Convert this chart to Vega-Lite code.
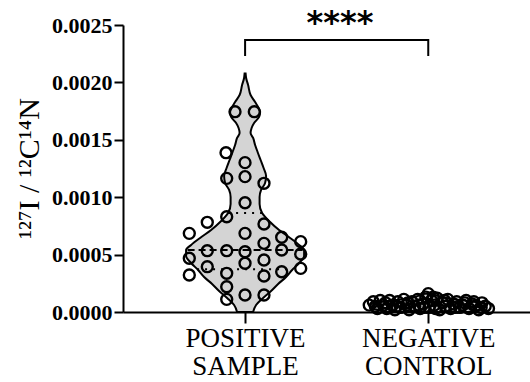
{
  "$schema": "https://vega.github.io/schema/vega-lite/v6.json",
  "width": 407,
  "height": 287,
  "autosize": {"type": "none"},
  "padding": {"left": 123, "top": 25, "right": 0, "bottom": 70},
  "background": "white",
  "config": {
    "view": {"stroke": null},
    "axis": {
      "grid": false,
      "tickWidth": 2,
      "tickColor": "black",
      "domainWidth": 2,
      "domainColor": "black",
      "labelColor": "black",
      "titleColor": "black"
    },
    "axisY": {
      "labelFont": "Liberation Serif",
      "labelFontWeight": "bold",
      "labelFontSize": 22,
      "labelPadding": 2,
      "tickSize": 9,
      "titleFont": "Liberation Serif",
      "titleFontWeight": "normal",
      "titleFontSize": 30
    },
    "axisX": {
      "labelFont": "Liberation Serif",
      "labelFontSize": 27,
      "labelLineHeight": 28,
      "labelPadding": 2,
      "tickSize": 11
    }
  },
  "datasets": {
    "violin": [
      {"g": "pos", "y": 0.002078, "x": 0.2988, "x2": 0.3012},
      {"g": "pos", "y": 0.002038, "x": 0.2975, "x2": 0.3025},
      {"g": "pos", "y": 0.001977, "x": 0.2926, "x2": 0.3074},
      {"g": "pos", "y": 0.001890, "x": 0.2865, "x2": 0.3135},
      {"g": "pos", "y": 0.001829, "x": 0.2754, "x2": 0.3246},
      {"g": "pos", "y": 0.001777, "x": 0.2668, "x2": 0.3332},
      {"g": "pos", "y": 0.001742, "x": 0.2631, "x2": 0.3369},
      {"g": "pos", "y": 0.001699, "x": 0.2656, "x2": 0.3344},
      {"g": "pos", "y": 0.001646, "x": 0.2779, "x2": 0.3221},
      {"g": "pos", "y": 0.001603, "x": 0.2840, "x2": 0.3160},
      {"g": "pos", "y": 0.001559, "x": 0.2865, "x2": 0.3135},
      {"g": "pos", "y": 0.001516, "x": 0.2803, "x2": 0.3197},
      {"g": "pos", "y": 0.001455, "x": 0.2754, "x2": 0.3246},
      {"g": "pos", "y": 0.001394, "x": 0.2693, "x2": 0.3307},
      {"g": "pos", "y": 0.001324, "x": 0.2619, "x2": 0.3381},
      {"g": "pos", "y": 0.001254, "x": 0.2545, "x2": 0.3455},
      {"g": "pos", "y": 0.001185, "x": 0.2484, "x2": 0.3516},
      {"g": "pos", "y": 0.001124, "x": 0.2509, "x2": 0.3491},
      {"g": "pos", "y": 0.001063, "x": 0.2607, "x2": 0.3393},
      {"g": "pos", "y": 0.001002, "x": 0.2644, "x2": 0.3356},
      {"g": "pos", "y": 0.000941, "x": 0.2644, "x2": 0.3356},
      {"g": "pos", "y": 0.000862, "x": 0.2582, "x2": 0.3418},
      {"g": "pos", "y": 0.000784, "x": 0.2386, "x2": 0.3614},
      {"g": "pos", "y": 0.000714, "x": 0.2165, "x2": 0.3835},
      {"g": "pos", "y": 0.000645, "x": 0.1894, "x2": 0.4106},
      {"g": "pos", "y": 0.000584, "x": 0.1673, "x2": 0.4327},
      {"g": "pos", "y": 0.000540, "x": 0.1550, "x2": 0.4450},
      {"g": "pos", "y": 0.000488, "x": 0.1550, "x2": 0.4450},
      {"g": "pos", "y": 0.000427, "x": 0.1673, "x2": 0.4327},
      {"g": "pos", "y": 0.000366, "x": 0.1845, "x2": 0.4155},
      {"g": "pos", "y": 0.000305, "x": 0.1993, "x2": 0.4007},
      {"g": "pos", "y": 0.000244, "x": 0.2189, "x2": 0.3811},
      {"g": "pos", "y": 0.000183, "x": 0.2361, "x2": 0.3639},
      {"g": "pos", "y": 0.000122, "x": 0.2558, "x2": 0.3442},
      {"g": "pos", "y": 0.000061, "x": 0.2730, "x2": 0.3270},
      {"g": "pos", "y": 0.0, "x": 0.2803, "x2": 0.3197},
      {"g": "neg", "y": 0.00016, "x": 0.7426, "x2": 0.7574},
      {"g": "neg", "y": 0.00012, "x": 0.701, "x2": 0.799},
      {"g": "neg", "y": 0.00009, "x": 0.6394, "x2": 0.8606},
      {"g": "neg", "y": 0.00006, "x": 0.6075, "x2": 0.8925},
      {"g": "neg", "y": 0.00003, "x": 0.615, "x2": 0.885},
      {"g": "neg", "y": 0.0, "x": 0.652, "x2": 0.848}
    ],
    "quart": [
      {"k": "median", "y": 0.000540, "x": 0.1587, "x2": 0.4413},
      {"k": "quartile", "y": 0.000862, "x": 0.2582, "x2": 0.3418},
      {"k": "quartile", "y": 0.000372, "x": 0.1820, "x2": 0.4180}
    ],
    "points": [
      {"x": 0.2752, "y": 0.001745}, {"x": 0.3226, "y": 0.001745},
      {"x": 0.2531, "y": 0.001388}, {"x": 0.2998, "y": 0.001301},
      {"x": 0.2548, "y": 0.001164}, {"x": 0.2998, "y": 0.001179},
      {"x": 0.3464, "y": 0.001121}, {"x": 0.2998, "y": 0.000952},
      {"x": 0.2548, "y": 0.000830}, {"x": 0.2071, "y": 0.000781},
      {"x": 0.1629, "y": 0.000685}, {"x": 0.3464, "y": 0.000767},
      {"x": 0.2998, "y": 0.000685}, {"x": 0.3899, "y": 0.000651},
      {"x": 0.4366, "y": 0.000613}, {"x": 0.3464, "y": 0.000598},
      {"x": 0.2071, "y": 0.000534}, {"x": 0.2548, "y": 0.000534},
      {"x": 0.2998, "y": 0.000525}, {"x": 0.3899, "y": 0.000540},
      {"x": 0.1629, "y": 0.000468}, {"x": 0.4366, "y": 0.000505},
      {"x": 0.3464, "y": 0.000453}, {"x": 0.2071, "y": 0.000395},
      {"x": 0.2998, "y": 0.000424}, {"x": 0.3899, "y": 0.000351},
      {"x": 0.4366, "y": 0.000380}, {"x": 0.1629, "y": 0.000322},
      {"x": 0.2548, "y": 0.000337}, {"x": 0.3464, "y": 0.000314},
      {"x": 0.2548, "y": 0.000220}, {"x": 0.2548, "y": 0.000110},
      {"x": 0.2998, "y": 0.000148}, {"x": 0.3464, "y": 0.000148},
      {"x": 0.605, "y": 0.00006}, {"x": 0.615, "y": 0.00009},
      {"x": 0.625, "y": 0.00003}, {"x": 0.632, "y": 0.00010},
      {"x": 0.640, "y": 0.00006}, {"x": 0.648, "y": 0.00003},
      {"x": 0.655, "y": 0.00010}, {"x": 0.662, "y": 0.00006},
      {"x": 0.668, "y": 0.00002}, {"x": 0.675, "y": 0.00009},
      {"x": 0.682, "y": 0.00004}, {"x": 0.690, "y": 0.00011},
      {"x": 0.697, "y": 0.00006}, {"x": 0.703, "y": 0.00002},
      {"x": 0.710, "y": 0.00009}, {"x": 0.717, "y": 0.00005},
      {"x": 0.724, "y": 0.00011}, {"x": 0.730, "y": 0.00003},
      {"x": 0.737, "y": 0.00007}, {"x": 0.744, "y": 0.00013},
      {"x": 0.750, "y": 0.00016}, {"x": 0.752, "y": 0.00004},
      {"x": 0.758, "y": 0.00010}, {"x": 0.765, "y": 0.00006},
      {"x": 0.772, "y": 0.00012}, {"x": 0.778, "y": 0.00002},
      {"x": 0.785, "y": 0.00008}, {"x": 0.792, "y": 0.00005},
      {"x": 0.798, "y": 0.00011}, {"x": 0.805, "y": 0.00003},
      {"x": 0.812, "y": 0.00007}, {"x": 0.820, "y": 0.00009},
      {"x": 0.827, "y": 0.00004}, {"x": 0.835, "y": 0.00006},
      {"x": 0.843, "y": 0.00010}, {"x": 0.850, "y": 0.00003},
      {"x": 0.858, "y": 0.00007}, {"x": 0.866, "y": 0.00005},
      {"x": 0.874, "y": 0.00002}, {"x": 0.882, "y": 0.00008},
      {"x": 0.890, "y": 0.00005}, {"x": 0.898, "y": 0.00003},
      {"x": 0.620, "y": 0.00005}, {"x": 0.645, "y": 0.00008},
      {"x": 0.672, "y": 0.00005}, {"x": 0.700, "y": 0.00008},
      {"x": 0.727, "y": 0.00006}, {"x": 0.740, "y": 0.00004},
      {"x": 0.762, "y": 0.00013}, {"x": 0.768, "y": 0.00003},
      {"x": 0.790, "y": 0.00010}, {"x": 0.816, "y": 0.00004},
      {"x": 0.840, "y": 0.00008}, {"x": 0.862, "y": 0.00009},
      {"x": 0.880, "y": 0.00004}
    ],
    "bracket": [
      {"o": 1, "x": 0.3, "y": 0.002239},
      {"o": 2, "x": 0.3, "y": 0.002369},
      {"o": 3, "x": 0.75, "y": 0.002369},
      {"o": 4, "x": 0.75, "y": 0.002239}
    ],
    "stars": [
      {"x": 0.533, "y": 0.00252, "t": "****"}
    ]
  },
  "layer": [
    {
      "data": {"name": "violin"},
      "mark": {"type": "area", "orient": "horizontal", "fill": "#d4d4d4", "stroke": "black", "strokeWidth": 2, "interpolate": "monotone"},
      "encoding": {
        "y": {
          "field": "y", "type": "quantitative",
          "scale": {"domain": [0, 0.0025], "nice": false, "zero": false},
          "axis": {
            "values": [0, 0.0005, 0.001, 0.0015, 0.002, 0.0025],
            "format": ".4f",
            "title": "¹²⁷I / ¹²C¹⁴N",
            "titleX": -85,
            "titleY": 143,
            "titleBaseline": "alphabetic"
          }
        },
        "x": {
          "field": "x", "type": "quantitative",
          "scale": {"domain": [0, 1], "nice": false, "zero": false},
          "axis": {
            "values": [0.3, 0.75],
            "labelExpr": "datum.value < 0.5 ? ['POSITIVE', 'SAMPLE'] : ['NEGATIVE', 'CONTROL']",
            "title": null
          }
        },
        "x2": {"field": "x2"},
        "detail": {"field": "g"}
      }
    },
    {
      "data": {"name": "quart"},
      "mark": {"type": "rule", "stroke": "black", "strokeWidth": 2},
      "encoding": {
        "y": {"field": "y", "type": "quantitative"},
        "x": {"field": "x", "type": "quantitative"},
        "x2": {"field": "x2"},
        "strokeDash": {"field": "k", "type": "nominal", "scale": {"domain": ["median", "quartile"], "range": [[7, 4], [2, 6]]}, "legend": null}
      }
    },
    {
      "data": {"name": "points"},
      "mark": {"type": "point", "shape": "circle", "filled": false, "stroke": "black", "strokeWidth": 2.4, "size": 120, "opacity": 1},
      "encoding": {
        "y": {"field": "y", "type": "quantitative"},
        "x": {"field": "x", "type": "quantitative"}
      }
    },
    {
      "data": {"name": "bracket"},
      "mark": {"type": "line", "stroke": "black", "strokeWidth": 2, "strokeCap": "square"},
      "encoding": {
        "y": {"field": "y", "type": "quantitative"},
        "x": {"field": "x", "type": "quantitative"},
        "order": {"field": "o", "type": "quantitative"}
      }
    },
    {
      "data": {"name": "stars"},
      "mark": {"type": "text", "font": "DejaVu Sans", "fontWeight": "bold", "fontSize": 32, "baseline": "middle", "align": "center", "color": "black"},
      "encoding": {
        "y": {"field": "y", "type": "quantitative"},
        "x": {"field": "x", "type": "quantitative"},
        "text": {"field": "t"}
      }
    }
  ]
}
